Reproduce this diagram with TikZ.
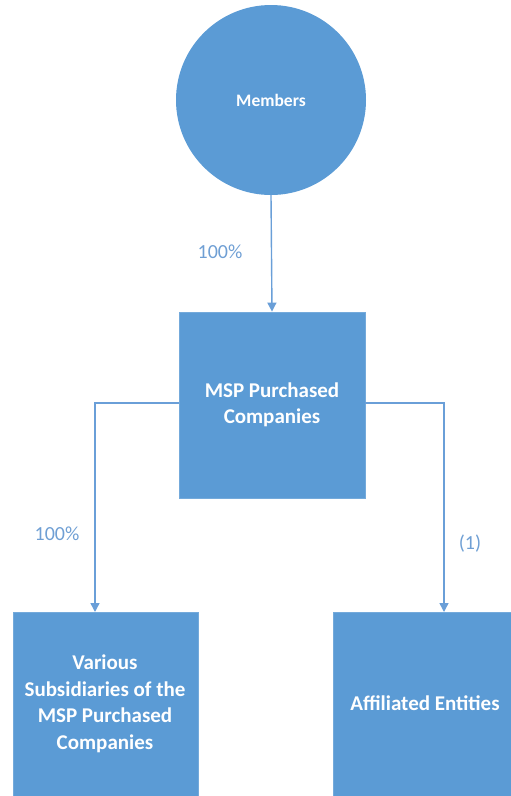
\documentclass[tikz,border=0pt]{standalone}
\usepackage{fontspec}
\setmainfont{Carlito}
\usetikzlibrary{arrows.meta}
\definecolor{boxblue}{HTML}{5B9BD5}
\definecolor{lineblue}{HTML}{6A9FD8}
\definecolor{labelblue}{HTML}{6F9FD4}
\tikzset{
  entitytext/.style={text=white,align=center,font=\fontsize{21}{26.5}\selectfont\bfseries},
  entitybox/.style={fill=boxblue,draw=boxblue!85!white,line width=0.8pt},
  link/.style={draw=lineblue,line width=1.4pt,-{Triangle[length=9pt,width=9pt]}},
  pct/.style={text=labelblue,font=\fontsize{20}{22}\selectfont}}
\begin{document}
\begin{tikzpicture}[x=1pt,y=-1pt]
\useasboundingbox (0,0) rectangle (511,796);
\node[circle,fill=boxblue,minimum size=190pt,inner sep=0pt,text=white,font=\fontsize{17.5}{20}\selectfont\bfseries] (mem) at (271,100) {Members};
\node[entitybox,entitytext,minimum width=186pt,minimum height=186pt] (msp) at (272,405) {MSP Purchased\\Companies};
\path[entitybox] (13,612) rectangle (198,800);
\node[entitytext] (sub) at (105,704) {Various\\Subsidiaries of the\\MSP Purchased\\Companies};
\path[entitybox] (333,612) rectangle (520,800);
\node[entitytext] (aff) at (425,703) {Affiliated Entities};
\coordinate (subtop) at (95,612);
\coordinate (afftop) at (444,612);
\draw[link] (mem.south) -- (msp.north);
\draw[link] (msp.west |- 0,403) -| (subtop);
\draw[link] (msp.east |- 0,403) -| (afftop);
\node[pct] (p1) at (220,252) {100\%};
\node[pct] (p2) at (57,534) {100\%};
\node[pct] (p3) at (470,544) {(1)};
\end{tikzpicture}
\end{document}
